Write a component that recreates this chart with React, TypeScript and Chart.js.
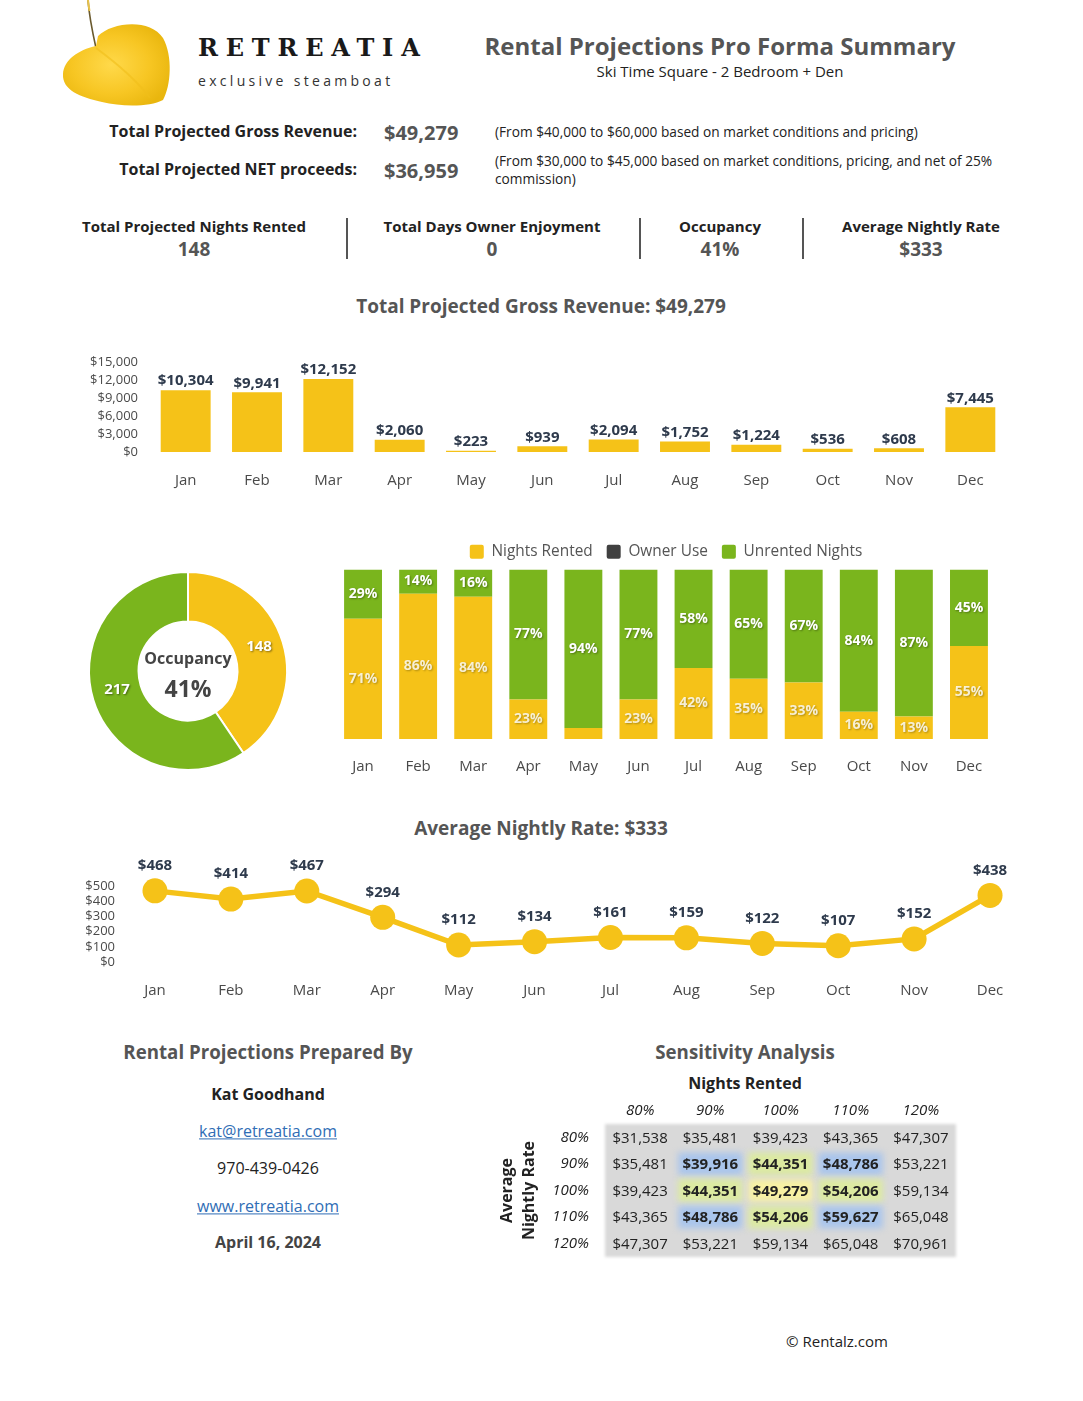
import React, { useEffect, useRef } from 'react';
import { Chart, registerables } from 'chart.js';

Chart.register(...registerables);

const FONT = '"Open Sans", "Noto Sans", sans-serif';
Chart.defaults.font.family = FONT;

// ---------- data ----------
const months = ['Jan', 'Feb', 'Mar', 'Apr', 'May', 'Jun', 'Jul', 'Aug', 'Sep', 'Oct', 'Nov', 'Dec'];
const monthlyRevenue = [10304, 9941, 12152, 2060, 223, 939, 2094, 1752, 1224, 536, 608, 7445];
const revenueTicks = [0, 3000, 6000, 9000, 12000, 15000];
const nightsRented = [22, 24, 26, 7, 2, 7, 13, 11, 10, 5, 4, 17];
const ownerUse = [0, 0, 0, 0, 0, 0, 0, 0, 0, 0, 0, 0];
const unrentedNights = [9, 4, 5, 23, 29, 23, 18, 20, 20, 26, 26, 14];
const nightlyRate = [468, 414, 467, 294, 112, 134, 161, 159, 122, 107, 152, 438];
const rateTicks = [0, 100, 200, 300, 400, 500];
const sensNightsLabels = ['80%', '90%', '100%', '110%', '120%'];
const sensRateLabels = ['80%', '90%', '100%', '110%', '120%'];
const sensRow80 = [31538, 35481, 39423, 43365, 47307];
const sensRow90 = [35481, 39916, 44351, 48786, 53221];
const sensRow100 = [39423, 44351, 49279, 54206, 59134];
const sensRow110 = [43365, 48786, 54206, 59627, 65048];
const sensRow120 = [47307, 53221, 59134, 65048, 70961];
const sensRows = [sensRow80, sensRow90, sensRow100, sensRow110, sensRow120];

// ---------- styles ----------
const YELLOW = '#F5C218';
const GREEN = '#7AB51D';
const OWNER = '#404040';
const DARK = '#2E3A4C';
const NOGRID = { display: false, drawTicks: false };
const NOBORDER = { display: false };

const money = (v: number) => '$' + Number(v).toLocaleString('en-US');
const sum = (a: number[]) => a.reduce((s, v) => s + v, 0);
const noPad = (s: any) => { s.paddingTop = 0; s.paddingBottom = 0; };

const topLabels = (id: string, offset: number, font: string) => ({
  id,
  afterDatasetsDraw(chart: any) {
    const { ctx } = chart;
    const ds = chart.data.datasets[0];
    const meta = chart.getDatasetMeta(0);
    ctx.save();
    ctx.font = font;
    ctx.fillStyle = DARK;
    ctx.textAlign = 'center';
    ctx.textBaseline = 'middle';
    meta.data.forEach((el: any, i: number) => {
      ctx.fillText(money(ds.data[i]), el.x, el.y - offset);
    });
    ctx.restore();
  },
});

function ChartBox({ box, make }: { box: number[]; make: () => any }) {
  const ref = useRef<HTMLCanvasElement>(null);
  useEffect(() => {
    const chart = new Chart(ref.current as HTMLCanvasElement, make());
    return () => chart.destroy();
  }, []);
  const [left, top, width, height] = box;
  return (
    <div style={{ position: 'absolute', left, top, width, height }}>
      <canvas ref={ref} />
    </div>
  );
}

const revenueConfig = () => ({
  type: 'bar',
  data: {
    labels: months,
    datasets: [{ label: 'Revenue', data: monthlyRevenue, backgroundColor: YELLOW, barPercentage: 0.875, categoryPercentage: 0.8 }],
  },
  options: {
    animation: false,
    responsive: true,
    maintainAspectRatio: false,
    layout: { padding: { top: 17, right: 9, left: 0, bottom: 0 } },
    plugins: { legend: { display: false }, tooltip: { enabled: false } },
    scales: {
      x: {
        grid: NOGRID, border: NOBORDER,
        ticks: { padding: 20, color: '#4a4a4a', font: { size: 15 } },
        afterFit: (s: any) => { s.height = 54; },
      },
      y: {
        min: 0, max: 15000, grid: NOGRID, border: NOBORDER,
        afterBuildTicks: (s: any) => { s.ticks = revenueTicks.map((v) => ({ value: v })); },
        ticks: { autoSkip: false, padding: 12, color: '#4a4a4a', font: { size: 13 }, callback: (v: any) => money(v) },
        afterFit: (s: any) => { s.width = 80; noPad(s); },
      },
    },
  },
  plugins: [topLabels('revLabels', 9, `700 15px ${FONT}`)],
});

const donutConfig = () => ({
  type: 'doughnut',
  data: {
    labels: ['Nights Rented', 'Unrented Nights'],
    datasets: [{
      data: [sum(nightsRented), sum(unrentedNights)],
      backgroundColor: [YELLOW, GREEN], borderColor: '#ffffff', borderWidth: 2,
    }],
  },
  options: {
    animation: false, responsive: true, maintainAspectRatio: false, cutout: '50%',
    layout: { padding: 8 },
    plugins: { legend: { display: false }, tooltip: { enabled: false } },
  },
  plugins: [{
    id: 'donutText',
    afterDatasetsDraw(chart: any) {
      const { ctx } = chart;
      const ds = chart.data.datasets[0];
      const meta = chart.getDatasetMeta(0);
      ctx.save();
      ctx.textAlign = 'center';
      ctx.textBaseline = 'middle';
      ctx.font = `700 15px ${FONT}`;
      ctx.shadowColor = 'rgba(0,0,0,0.45)';
      ctx.shadowBlur = 2;
      ctx.shadowOffsetX = 1;
      ctx.shadowOffsetY = 1;
      ctx.fillStyle = '#ffffff';
      meta.data.forEach((el: any, i: number) => {
        const p = el.tooltipPosition();
        ctx.fillText(String(ds.data[i]), p.x, p.y - 3);
      });
      ctx.restore();
      const el0 = meta.data[0];
      const cx = el0.x, cy = el0.y;
      const total = sum(ds.data);
      ctx.save();
      ctx.textAlign = 'center';
      ctx.textBaseline = 'middle';
      ctx.fillStyle = '#444444';
      ctx.font = `700 16px ${FONT}`;
      ctx.fillText('Occupancy', cx, cy - 12);
      ctx.font = `700 23px ${FONT}`;
      ctx.fillText(Math.round((ds.data[0] / total) * 100) + '%', cx, cy + 19);
      ctx.restore();
    },
  }],
});

const totals = months.map((_, i) => nightsRented[i] + ownerUse[i] + unrentedNights[i]);
const pct = (arr: number[]) => arr.map((v, i) => (v / totals[i]) * 100);

const stackedConfig = () => ({
  type: 'bar',
  data: {
    labels: months,
    datasets: [
      { label: 'Nights Rented', data: pct(nightsRented), backgroundColor: YELLOW },
      { label: 'Owner Use', data: pct(ownerUse), backgroundColor: OWNER },
      { label: 'Unrented Nights', data: pct(unrentedNights), backgroundColor: GREEN },
    ],
  },
  options: {
    animation: false, responsive: true, maintainAspectRatio: false,
    datasets: { bar: { barPercentage: 0.86, categoryPercentage: 0.8 } },
    layout: { padding: { left: 15.5, right: 15.5, top: 0, bottom: 0 } },
    plugins: {
      tooltip: { enabled: false },
      legend: {
        display: true, position: 'top',
        labels: { boxWidth: 14, boxHeight: 14, padding: 14, color: '#555555', font: { size: 15.4 }, useBorderRadius: true, borderRadius: 2 },
      },
    },
    scales: {
      x: {
        stacked: true, grid: NOGRID, border: NOBORDER,
        ticks: { padding: 19, color: '#4a4a4a', font: { size: 15 } },
        afterFit: (s: any) => { s.height = 45; },
      },
      y: { stacked: true, display: false, min: 0, max: 100 },
    },
  },
  plugins: [{
    id: 'pctLabels',
    afterDatasetsDraw(chart: any) {
      const { ctx } = chart;
      ctx.save();
      ctx.textAlign = 'center';
      ctx.textBaseline = 'middle';
      ctx.font = `700 14px ${FONT}`;
      ctx.shadowColor = 'rgba(0,0,0,0.35)';
      ctx.shadowBlur = 2;
      ctx.shadowOffsetX = 1;
      ctx.shadowOffsetY = 1;
      chart.data.datasets.forEach((ds: any, d: number) => {
        const meta = chart.getDatasetMeta(d);
        ctx.fillStyle = d === 0 ? 'rgba(255,255,255,0.82)' : '#ffffff';
        meta.data.forEach((el: any, i: number) => {
          const v = ds.data[i];
          if (v < 8) return;
          const p = el.getProps(['x', 'y', 'base'], true);
          ctx.fillText(Math.round(v) + '%', p.x, (p.y + p.base) / 2);
        });
      });
      ctx.restore();
    },
  }],
});

const rateConfig = () => ({
  type: 'line',
  data: {
    labels: months,
    datasets: [{
      label: 'Average Nightly Rate', data: nightlyRate, borderColor: YELLOW, backgroundColor: YELLOW,
      borderWidth: 5.5, pointRadius: 12.5, pointBackgroundColor: YELLOW, pointBorderWidth: 0, tension: 0, clip: false,
    }],
  },
  options: {
    animation: false, responsive: true, maintainAspectRatio: false,
    layout: { padding: { top: 41, right: 32, left: 0, bottom: 0 } },
    plugins: { legend: { display: false }, tooltip: { enabled: false } },
    scales: {
      x: {
        offset: true, grid: NOGRID, border: NOBORDER,
        ticks: { padding: 20, color: '#4a4a4a', font: { size: 15 } },
        afterFit: (s: any) => { s.height = 45; },
      },
      y: {
        min: 0, max: 500, grid: NOGRID, border: NOBORDER,
        afterBuildTicks: (s: any) => { s.ticks = rateTicks.map((v) => ({ value: v })); },
        ticks: { autoSkip: false, padding: 2, color: '#4a4a4a', font: { size: 13 }, callback: (v: any) => money(v) },
        afterFit: (s: any) => { s.width = 47; noPad(s); },
      },
    },
  },
  plugins: [topLabels('rateLabels', 25, `700 15px ${FONT}`)],
});

const sensCells = sensRateLabels.flatMap((r, ri) =>
  sensNightsLabels.map((n, ci) => ({ x: n, y: r, v: sensRows[ri][ci] }))
);

const cellStyle = (item: any) => {
  const dr = sensRateLabels.indexOf(item.y) - 2;
  const dc = sensNightsLabels.indexOf(item.x) - 2;
  if (Math.abs(dr) > 1 || Math.abs(dc) > 1) return null;
  const d = Math.abs(dr) + Math.abs(dc);
  return d === 0 ? '#F8F1A2' : d === 1 ? '#DCEAA0' : '#A9C5EC';
};

const sensConfig = () => ({
  type: 'scatter',
  data: { datasets: [{ label: 'Sensitivity', data: sensCells, pointRadius: 0, pointHoverRadius: 0 }] },
  options: {
    animation: false, responsive: true, maintainAspectRatio: false,
    layout: { padding: { right: 14, bottom: 8, top: 0, left: 0 } },
    plugins: { legend: { display: false }, tooltip: { enabled: false } },
    scales: {
      x: {
        type: 'category', labels: sensNightsLabels, position: 'top', offset: true,
        grid: NOGRID, border: NOBORDER,
        ticks: { padding: 4, color: '#222222', font: { size: 15, style: 'italic' } },
        afterFit: (s: any) => { s.height = 54; s.paddingLeft = 0; s.paddingRight = 0; },
      },
      y: {
        type: 'category', labels: sensRateLabels, offset: true,
        grid: NOGRID, border: NOBORDER,
        ticks: { padding: 16, color: '#222222', font: { size: 15, style: 'italic' } },
        title: { display: true, text: ['Average', 'Nightly Rate'], color: '#222222', font: { size: 16, weight: 'bold', lineHeight: 1.35 }, padding: { top: 7, bottom: 0 } },
        afterFit: (s: any) => { s.width = 115; noPad(s); },
      },
    },
  },
  plugins: [{
    id: 'cells',
    beforeDatasetsDraw(chart: any) {
      const { ctx, chartArea: a, scales } = chart;
      const cw = scales.x.getPixelForValue(1) - scales.x.getPixelForValue(0);
      const ch = scales.y.getPixelForValue(1) - scales.y.getPixelForValue(0);
      ctx.save();
      ctx.filter = 'blur(1.5px)';
      ctx.fillStyle = '#D9D9D9';
      ctx.fillRect(a.left, a.top, a.width, a.height);
      const ds = chart.data.datasets[0];
      const meta = chart.getDatasetMeta(0);
      ctx.filter = 'blur(3px)';
      meta.data.forEach((el: any, k: number) => {
        const col = cellStyle(ds.data[k]);
        if (!col) return;
        ctx.fillStyle = col;
        ctx.fillRect(el.x - cw / 2 + 3, el.y - ch / 2 + 2, cw - 6, ch - 4);
      });
      ctx.restore();
    },
    afterDatasetsDraw(chart: any) {
      const { ctx } = chart;
      const ds = chart.data.datasets[0];
      const meta = chart.getDatasetMeta(0);
      ctx.save();
      ctx.textAlign = 'center';
      ctx.textBaseline = 'middle';
      ctx.fillStyle = '#222222';
      meta.data.forEach((el: any, k: number) => {
        const item = ds.data[k];
        ctx.font = cellStyle(item) ? `700 15px ${FONT}` : `400 15px ${FONT}`;
        ctx.fillText(money(item.v), el.x, el.y + 1);
      });
      ctx.restore();
    },
  }],
});

// ---------- layout helpers ----------
function T({ x, y, a = 'left', s, children }: { x: number; y: number; a?: string; s?: any; children: any }) {
  const tx = a === 'center' ? '-50%' : a === 'right' ? '-100%' : '0';
  return (
    <div style={{ position: 'absolute', left: x, top: y, transform: `translate(${tx},-50%)`, whiteSpace: 'nowrap', lineHeight: 1.2, fontFamily: FONT, ...s }}>
      {children}
    </div>
  );
}

const bold = (size: number, color = '#222222') => ({ fontWeight: 700, fontSize: size, color });
const reg = (size: number, color = '#222222') => ({ fontWeight: 400, fontSize: size, color });
const link = { ...reg(16, '#2F6DB5'), textDecoration: 'underline' };

function Leaf() {
  return (
    <svg width={200} height={112} style={{ position: 'absolute', left: 0, top: 0 }}>
      <defs>
        <radialGradient id="lg" cx="0.45" cy="0.5" r="0.6">
          <stop offset="0" stopColor="#FFD94A" />
          <stop offset="0.6" stopColor="#F7C623" />
          <stop offset="1" stopColor="#E9B60E" />
        </radialGradient>
      </defs>
      <path d="M 88 0 C 89 14, 92 30, 96 48" stroke="#6A5A2E" strokeWidth={1.6} fill="none" />
      <path d="M 88 0 C 88.5 5, 89 8, 89.5 11" stroke="#E8C24A" strokeWidth={2} fill="none" />
      <path
        d="M 98 36 C 112 22, 150 18, 163 38 C 173 56, 171 86, 163 100 C 150 107, 122 107, 102 102 C 80 97, 62 90, 63 74 C 64 60, 78 50, 96 46 Z"
        fill="url(#lg)"
      />
      <path d="M 96 48 C 115 62, 135 78, 150 98" stroke="#F0BE1A" strokeWidth={2} fill="none" opacity={0.6} />
    </svg>
  );
}

export default function App() {
  return (
    <div style={{ position: 'absolute', left: 0, top: 0, width: 1083, height: 1401, background: '#ffffff', overflow: 'hidden', fontFamily: FONT }}>
      <Leaf />
      <T x={198} y={48} s={{ fontFamily: '"DejaVu Serif", serif', fontWeight: 700, fontSize: 24, letterSpacing: 7.8, color: '#1a1a1a' }}>RETREATIA</T>
      <T x={198} y={81} s={{ ...reg(14, '#333333'), letterSpacing: 3.3 }}>exclusive steamboat</T>
      <T x={720} y={46} a="center" s={bold(24, '#555555')}>Rental Projections Pro Forma Summary</T>
      <T x={720} y={71} a="center" s={reg(15)}>Ski Time Square - 2 Bedroom + Den</T>

      <T x={357} y={132} a="right" s={bold(16)}>Total Projected Gross Revenue:</T>
      <T x={384} y={133} s={bold(20, '#555555')}>$49,279</T>
      <T x={495} y={132} s={reg(13.7)}>(From $40,000 to $60,000 based on market conditions and pricing)</T>
      <T x={357} y={170} a="right" s={bold(16)}>Total Projected NET proceeds:</T>
      <T x={384} y={171} s={bold(20, '#555555')}>$36,959</T>
      <div style={{ position: 'absolute', left: 495, top: 152, width: 520, ...reg(13.7), lineHeight: '18px', fontFamily: FONT }}>
        (From $30,000 to $45,000 based on market conditions, pricing, and net of 25% commission)
      </div>

      <T x={194} y={226} a="center" s={bold(15)}>Total Projected Nights Rented</T>
      <T x={194} y={249} a="center" s={bold(19, '#555555')}>148</T>
      <T x={492} y={226} a="center" s={bold(15)}>Total Days Owner Enjoyment</T>
      <T x={492} y={249} a="center" s={bold(19, '#555555')}>0</T>
      <T x={720} y={226} a="center" s={bold(15)}>Occupancy</T>
      <T x={720} y={249} a="center" s={bold(19, '#555555')}>41%</T>
      <T x={921} y={226} a="center" s={bold(15)}>Average Nightly Rate</T>
      <T x={921} y={249} a="center" s={bold(19, '#555555')}>$333</T>
      {[346, 639, 802].map((x) => (
        <div key={x} style={{ position: 'absolute', left: x, top: 218, width: 1.5, height: 41, background: '#555555' }} />
      ))}

      <T x={541} y={306} a="center" s={bold(19, '#555555')}>Total Projected Gross Revenue: $49,279</T>
      <ChartBox box={[70, 345, 945, 161]} make={revenueConfig} />

      <ChartBox box={[80, 563, 216, 216]} make={donutConfig} />
      <ChartBox box={[320, 530, 692, 254]} make={stackedConfig} />

      <T x={541} y={828} a="center" s={bold(19, '#555555')}>Average Nightly Rate: $333</T>
      <ChartBox box={[70, 845, 990, 162]} make={rateConfig} />

      <T x={268} y={1052} a="center" s={bold(18.7, '#555555')}>Rental Projections Prepared By</T>
      <T x={268} y={1095} a="center" s={bold(16)}>Kat Goodhand</T>
      <T x={268} y={1132} a="center" s={link}>kat@retreatia.com</T>
      <T x={268} y={1169} a="center" s={reg(16)}>970-439-0426</T>
      <T x={268} y={1207} a="center" s={link}>www.retreatia.com</T>
      <T x={268} y={1243} a="center" s={bold(16, '#444444')}>April 16, 2024</T>

      <T x={745} y={1052} a="center" s={bold(18.7, '#555555')}>Sensitivity Analysis</T>
      <T x={745} y={1084} a="center" s={bold(16)}>Nights Rented</T>
      <ChartBox box={[490, 1070, 480, 195]} make={sensConfig} />

      <T x={837} y={1341} a="center" s={reg(15)}>© Rentalz.com</T>
    </div>
  );
}
